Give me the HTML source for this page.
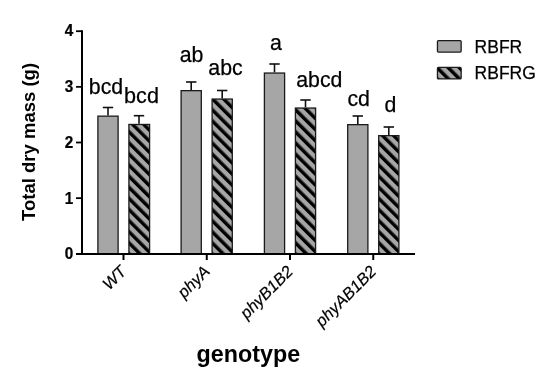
<!DOCTYPE html>
<html><head><meta charset="utf-8"><style>
html,body{margin:0;padding:0;background:#fff;width:550px;height:376px;overflow:hidden}
svg{display:block}
text{font-family:"Liberation Sans",sans-serif;fill:#000}
svg{filter:grayscale(1)}
.b{font-weight:bold}
.i{font-style:italic}
.r{stroke:#000;stroke-width:0.25px}
.i{stroke:#000;stroke-width:0.2px}
</style></head><body>
<svg width="550" height="376" viewBox="0 0 550 376">
<defs><pattern id="h1" patternUnits="userSpaceOnUse" width="7.849" height="7.849" patternTransform="translate(126.61,254) rotate(-45)"><rect width="7.849" height="7.849" fill="#a6a6a9"/><rect width="3.454" height="7.849" fill="#000"/></pattern><pattern id="h3" patternUnits="userSpaceOnUse" width="7.849" height="7.849" patternTransform="translate(209.81,254) rotate(-45)"><rect width="7.849" height="7.849" fill="#a6a6a9"/><rect width="3.454" height="7.849" fill="#000"/></pattern><pattern id="h5" patternUnits="userSpaceOnUse" width="7.849" height="7.849" patternTransform="translate(293.11,254) rotate(-45)"><rect width="7.849" height="7.849" fill="#a6a6a9"/><rect width="3.454" height="7.849" fill="#000"/></pattern><pattern id="h7" patternUnits="userSpaceOnUse" width="7.849" height="7.849" patternTransform="translate(376.41,254) rotate(-45)"><rect width="7.849" height="7.849" fill="#a6a6a9"/><rect width="3.454" height="7.849" fill="#000"/></pattern><pattern id="hl" patternUnits="userSpaceOnUse" width="7.849" height="7.849" patternTransform="translate(447.06,80) rotate(-45)"><rect width="7.849" height="7.849" fill="#a6a6a9"/><rect width="3.454" height="7.849" fill="#000"/></pattern></defs>
<rect width="550" height="376" fill="#fff"/>
<line x1="108.0" y1="107.5" x2="108.0" y2="115.5" stroke="#111" stroke-width="1.6"/>
<line x1="102.8" y1="107.5" x2="113.2" y2="107.5" stroke="#111" stroke-width="1.6"/>
<rect x="97.90" y="116.15" width="20.20" height="137.85" fill="#a6a6a9" stroke="#1a1a1a" stroke-width="1.3"/>
<line x1="139.0" y1="115.7" x2="139.0" y2="123.8" stroke="#111" stroke-width="1.6"/>
<line x1="133.8" y1="115.7" x2="144.2" y2="115.7" stroke="#111" stroke-width="1.6"/>
<rect x="128.90" y="124.45" width="20.70" height="129.55" fill="url(#h1)" stroke="#1a1a1a" stroke-width="1.3"/>
<line x1="191.2" y1="82.0" x2="191.2" y2="90.0" stroke="#111" stroke-width="1.6"/>
<line x1="186.0" y1="82.0" x2="196.39999999999998" y2="82.0" stroke="#111" stroke-width="1.6"/>
<rect x="181.10" y="90.65" width="20.20" height="163.35" fill="#a6a6a9" stroke="#1a1a1a" stroke-width="1.3"/>
<line x1="222.2" y1="90.5" x2="222.2" y2="98.4" stroke="#111" stroke-width="1.6"/>
<line x1="217.0" y1="90.5" x2="227.39999999999998" y2="90.5" stroke="#111" stroke-width="1.6"/>
<rect x="212.10" y="99.05" width="20.20" height="154.95" fill="url(#h3)" stroke="#1a1a1a" stroke-width="1.3"/>
<line x1="274.5" y1="64.0" x2="274.5" y2="72.4" stroke="#111" stroke-width="1.6"/>
<line x1="269.3" y1="64.0" x2="279.7" y2="64.0" stroke="#111" stroke-width="1.6"/>
<rect x="264.40" y="73.05" width="20.20" height="180.95" fill="#a6a6a9" stroke="#1a1a1a" stroke-width="1.3"/>
<line x1="305.5" y1="100.0" x2="305.5" y2="107.4" stroke="#111" stroke-width="1.6"/>
<line x1="300.3" y1="100.0" x2="310.7" y2="100.0" stroke="#111" stroke-width="1.6"/>
<rect x="295.40" y="108.05" width="20.20" height="145.95" fill="url(#h5)" stroke="#1a1a1a" stroke-width="1.3"/>
<line x1="357.8" y1="116.0" x2="357.8" y2="124.0" stroke="#111" stroke-width="1.6"/>
<line x1="352.6" y1="116.0" x2="363.0" y2="116.0" stroke="#111" stroke-width="1.6"/>
<rect x="347.70" y="124.65" width="20.20" height="129.35" fill="#a6a6a9" stroke="#1a1a1a" stroke-width="1.3"/>
<line x1="388.8" y1="127.0" x2="388.8" y2="135.0" stroke="#111" stroke-width="1.6"/>
<line x1="383.6" y1="127.0" x2="394.0" y2="127.0" stroke="#111" stroke-width="1.6"/>
<rect x="378.70" y="135.65" width="20.20" height="118.35" fill="url(#h7)" stroke="#1a1a1a" stroke-width="1.3"/>
<line x1="82" y1="30.3" x2="82" y2="255" stroke="#000" stroke-width="2"/>
<line x1="76" y1="31.20" x2="82" y2="31.20" stroke="#000" stroke-width="1.8"/>
<line x1="76" y1="86.85" x2="82" y2="86.85" stroke="#000" stroke-width="1.8"/>
<line x1="76" y1="142.50" x2="82" y2="142.50" stroke="#000" stroke-width="1.8"/>
<line x1="76" y1="198.15" x2="82" y2="198.15" stroke="#000" stroke-width="1.8"/>
<line x1="76" y1="253.9" x2="415" y2="253.9" stroke="#000" stroke-width="2"/>
<line x1="123.5" y1="254" x2="123.5" y2="260" stroke="#000" stroke-width="2"/>
<line x1="206.75" y1="254" x2="206.75" y2="260" stroke="#000" stroke-width="2"/>
<line x1="290.0" y1="254" x2="290.0" y2="260" stroke="#000" stroke-width="2"/>
<line x1="373.25" y1="254" x2="373.25" y2="260" stroke="#000" stroke-width="2"/>
<text transform="translate(73.2,36.2) scale(0.9,1)" text-anchor="end" class="b" font-size="17" stroke="#000" stroke-width="0.25">4</text>
<text transform="translate(73.2,92.0) scale(0.9,1)" text-anchor="end" class="b" font-size="17" stroke="#000" stroke-width="0.25">3</text>
<text transform="translate(73.2,147.8) scale(0.9,1)" text-anchor="end" class="b" font-size="17" stroke="#000" stroke-width="0.25">2</text>
<text transform="translate(73.2,203.8) scale(0.9,1)" text-anchor="end" class="b" font-size="17" stroke="#000" stroke-width="0.25">1</text>
<text transform="translate(73.2,258.7) scale(0.9,1)" text-anchor="end" class="b" font-size="17" stroke="#000" stroke-width="0.25">0</text>
<text transform="translate(35.0,220.9) rotate(-90)" class="b" font-size="18.5">Total dry mass (g)</text>
<text x="196.6" y="361.5" class="b" font-size="23.3">genotype</text>
<text x="88.83" y="94.4" class="r" font-size="21.3">bcd</text>
<text x="124.09" y="103.4" class="r" font-size="21.6">bcd</text>
<text x="179.65" y="61.9" class="r" font-size="21.3">ab</text>
<text x="208.36" y="75.3" class="r" font-size="21.3">abc</text>
<text x="269.92" y="50.1" class="r" font-size="21.3">a</text>
<text x="296.24" y="87.0" class="r" font-size="21.3">abcd</text>
<text x="347.39" y="106.0" class="r" font-size="21.3">cd</text>
<text x="384.62" y="111.7" class="r" font-size="21.3">d</text>
<text transform="translate(127.50,272.5) rotate(-45)" text-anchor="end" class="i" font-size="16.5">WT</text>
<text transform="translate(210.75,272.5) rotate(-45)" text-anchor="end" class="i" font-size="16.5">phyA</text>
<text transform="translate(294.00,272.5) rotate(-45)" text-anchor="end" class="i" font-size="16.5">phyB1B2</text>
<text transform="translate(377.25,272.5) rotate(-45)" text-anchor="end" class="i" font-size="16.5">phyAB1B2</text>
<rect x="437.45" y="40.6" width="23.7" height="11.5" rx="1" fill="#a6a6a9" stroke="#1a1a1a" stroke-width="1.3"/>
<rect x="437.45" y="67.45" width="23.7" height="11.5" rx="1" fill="url(#hl)" stroke="#1a1a1a" stroke-width="1.3"/>
<text x="474.6" y="52.7" class="r" font-size="17.5">RBFR</text>
<text x="474.6" y="78.7" class="r" font-size="17.5">RBFRG</text>
</svg>
</body></html>
